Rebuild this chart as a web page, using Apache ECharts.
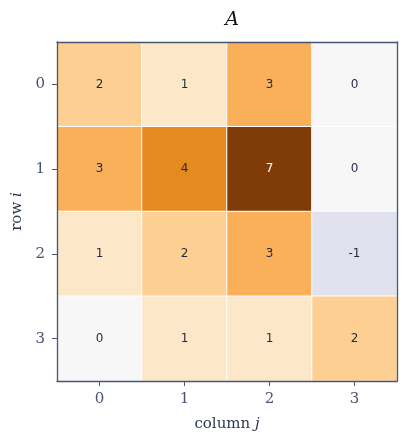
<!DOCTYPE html>
<html><head><meta charset="utf-8">
<script src="https://cdn.jsdelivr.net/npm/echarts@6/dist/echarts.min.js"></script>
<style>html,body{margin:0;padding:0;background:#fff}#c{width:406px;height:444px}</style>
</head><body><div id="c"></div>
<script>
const columns = ['0','1','2','3'];
const rows = ['0','1','2','3'];
const row0 = [2, 1, 3, 0];
const row1 = [3, 4, 7, 0];
const row2 = [1, 2, 3, -1];
const row3 = [0, 1, 1, 2];
const matrix = [row0, row1, row2, row3];
const colorScale = ['#2d004b','#542788','#8073ac','#b2abd2','#d8daeb','#f7f7f7','#fee0b6','#fdb863','#e08214','#b35806','#7f3b08'];

const data = [];
matrix.forEach((r, i) => r.forEach((v, j) => {
  const d = [j, i, v];
  data.push(v >= 6 ? {value: d, label: {color: '#ffffff'}} : d);
}));
const slate = '#485470';
const frameAxis = {
  axisLine: {show: true, onZero: false, lineStyle: {color: slate, width: 1.3}},
  axisTick: {show: false}, axisLabel: {show: false}, splitLine: {show: false}
};
const nameRich = {
  n: {fontFamily: 'DejaVu Serif', fontSize: 15, color: '#2e3850'},
  i: {fontFamily: 'DejaVu Serif', fontStyle: 'italic', fontSize: 15, color: '#2e3850'}
};
const chart = echarts.init(document.getElementById('c'));
chart.setOption({
  animation: false,
  title: {
    text: 'A', left: 227, top: 6, textAlign: 'center',
    textStyle: {fontFamily: 'DejaVu Serif', fontStyle: 'italic', fontWeight: 'normal', fontSize: 19, color: '#111'}
  },
  grid: {left: 57, top: 42, width: 340, height: 339},
  xAxis: [{
    type: 'category', data: columns, position: 'bottom', z: 10,
    axisLine: {show: true, onZero: false, lineStyle: {color: slate, width: 1.3}},
    axisTick: {show: true, alignWithLabel: true, length: 5, lineStyle: {color: slate}},
    axisLabel: {fontFamily: 'DejaVu Serif', fontSize: 15, color: slate, margin: 11},
    splitLine: {show: false},
    name: '{n|column }{i|j}', nameLocation: 'middle', nameGap: 36,
    nameTextStyle: {rich: nameRich}
  }, Object.assign({type: 'category', data: columns, position: 'top', z: 10}, frameAxis)],
  yAxis: [{
    type: 'category', data: rows, inverse: true, z: 10,
    axisLine: {show: true, onZero: false, lineStyle: {color: slate, width: 1.3}},
    axisTick: {show: true, alignWithLabel: true, length: 5, lineStyle: {color: slate}},
    axisLabel: {fontFamily: 'DejaVu Serif', fontSize: 15, color: slate, margin: 12},
    splitLine: {show: false},
    name: '{n|row }{i|i}', nameLocation: 'middle', nameGap: 29, nameRotate: 90,
    nameTextStyle: {rich: nameRich}
  }, Object.assign({type: 'category', data: rows, inverse: true, position: 'right', z: 10}, frameAxis)],
  visualMap: {show: false, min: -7, max: 7, dimension: 2, seriesIndex: 0, inRange: {color: colorScale}},
  series: [{
    type: 'heatmap', data: data,
    itemStyle: {borderColor: '#ffffff', borderWidth: 1},
    label: {
      show: true, fontFamily: 'DejaVu Sans', fontSize: 12,
      formatter: p => String(p.value[2]),
      color: '#1e2a40'
    },
    emphasis: {disabled: true}
  }]
});
</script></body></html>
